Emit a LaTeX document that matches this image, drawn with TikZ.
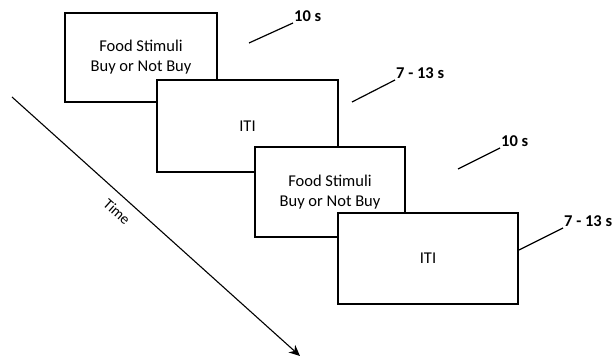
\documentclass[tikz,border=0pt]{standalone}
\usepackage{fontspec}
\setmainfont{Carlito}
\usetikzlibrary{arrows.meta,positioning}

\begin{document}
\begin{tikzpicture}[
    x=1pt, y=-1pt,
    screen/.style={rectangle, draw, fill=white, line width=1.6pt, align=center, font=\fontsize{16.5}{20}\selectfont, inner sep=0pt},
    tick/.style={line width=1.2pt},
    dur/.style={anchor=south west, font=\bfseries\fontsize{16.5}{19}\selectfont, inner sep=1pt},
    timeline/.style={-{Stealth[length=11pt,width=10pt]}, line width=1.1pt}
]
\useasboundingbox (0,0) rectangle (616,363);

% Screens
\node[screen, minimum width=152pt, minimum height=89pt] (food1) at (141,57.5) {Food Stimuli\\Buy or Not Buy};
\node[screen, minimum width=181pt, minimum height=92pt] (iti1) at (247.5,126) {ITI};
\node[screen, minimum width=150pt, minimum height=90pt] (food2) at (330,192) {Food Stimuli\\Buy or Not Buy};
\node[screen, minimum width=180pt, minimum height=91pt] (iti2) at (428,258.5) {ITI};

% Durations
\coordinate (d1a) at (249,43);
\node[dur] (d1) at (293,23) {10 s};
\draw[tick] (d1a) -- (d1.south west);

\coordinate (d2a) at (352,102);
\node[dur] (d2) at (395,80) {7 - 13 s};
\draw[tick] (d2a) -- (d2.south west);

\coordinate (d3a) at (458,169);
\node[dur] (d3) at (500,148) {10 s};
\draw[tick] (d3a) -- (d3.south west);

\coordinate (d4a) at (519,250);
\node[dur] (d4) at (563,228) {7 - 13 s};
\draw[tick] (d4a) -- (d4.south west);

% Time axis
\coordinate (t0) at (12,97);
\coordinate (t1) at (300,356);
\draw[timeline] (t0) -- (t1);
\node[rotate=-42, font=\fontsize{15}{18}\selectfont] (time) at (117,212) {Time};

\end{tikzpicture}
\end{document}
